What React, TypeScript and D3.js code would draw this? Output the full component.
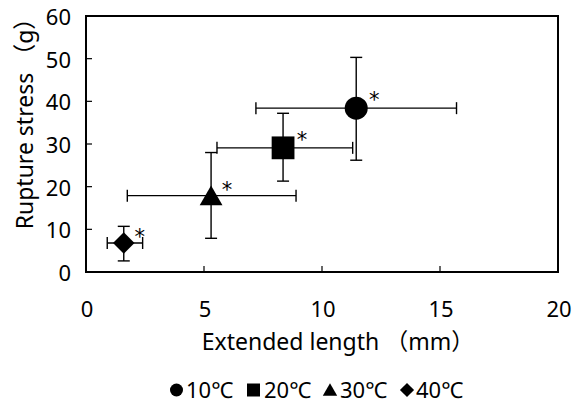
import React, { useEffect, useRef } from 'react';
import * as d3 from 'd3';

const labels = ['10℃', '20℃', '30℃', '40℃'];
const shapes = [d3.symbolCircle, d3.symbolSquare, d3.symbolTriangle, d3.symbolSquare];
const xMean = [11.45, 8.35, 5.3, 1.6];
const yMean = [38.4, 29.1, 17.9, 6.8];
const xLow = [7.2, 5.55, 1.75, 0.9];
const xHigh = [15.7, 11.3, 8.9, 2.4];
const yLow = [26.2, 21.3, 7.9, 2.6];
const yHigh = [50.3, 37.2, 28.0, 10.7];
const xTicks = [0, 5, 10, 15, 20];
const yTicks = [0, 10, 20, 30, 40, 50, 60];

const font = '"Noto Sans", "Noto Sans CJK JP", sans-serif';

export default function App() {
  const ref = useRef<SVGSVGElement>(null);

  useEffect(() => {
    const svg = d3.select(ref.current);
    svg.selectAll('*').remove();

    const margin = { top: 16, right: 25, bottom: 131, left: 86 };
    const width = 583 - margin.left - margin.right;
    const height = 403 - margin.top - margin.bottom;

    const x = d3.scaleLinear().domain([0, 20]).range([0, width]);
    const y = d3.scaleLinear().domain([0, 60]).range([height, 0]);

    const g = svg.append('g').attr('transform', `translate(${margin.left},${margin.top})`);

    // frame
    g.append('rect')
      .attr('width', width).attr('height', height)
      .attr('fill', 'none').attr('stroke', '#000').attr('stroke-width', 2);

    // y ticks (inside)
    g.selectAll('.yt').data(yTicks).enter().append('line')
      .attr('x1', 0).attr('x2', 6)
      .attr('y1', d => y(d)).attr('y2', d => y(d))
      .attr('stroke', '#000').attr('stroke-width', 1.2);
    g.selectAll('.yl').data(yTicks).enter().append('text')
      .attr('x', -15).attr('y', d => y(d) + 1).attr('dy', '0.36em')
      .attr('text-anchor', 'end')
      .style('font-family', font).style('font-size', '22px')
      .text(d => d);

    // x ticks (inside)
    g.selectAll('.xt').data(xTicks).enter().append('line')
      .attr('x1', d => x(d)).attr('x2', d => x(d))
      .attr('y1', height).attr('y2', height - 6)
      .attr('stroke', '#000').attr('stroke-width', 1.2);
    g.selectAll('.xl').data(xTicks).enter().append('text')
      .attr('x', d => x(d) + 1).attr('y', height + 45)
      .attr('text-anchor', 'middle')
      .style('font-family', font).style('font-size', '22px')
      .text(d => d);

    // axis titles
    g.append('text')
      .attr('x', 338 - margin.left).attr('y', 350 - margin.top)
      .attr('text-anchor', 'middle')
      .style('font-family', font).style('font-size', '23px')
      .text('Extended length （mm）');
    g.append('text')
      .attr('transform', `translate(${25 - margin.left},${118 - margin.top}) rotate(-90)`)
      .attr('text-anchor', 'middle').attr('dy', '0.36em')
      .style('font-family', font).style('font-size', '23px')
      .text('Rupture stress （g）');

    const idx = d3.range(labels.length);
    const cap = 6;

    // error bars
    const eb = g.append('g').attr('stroke', '#000').attr('stroke-width', 1.4);
    idx.forEach(i => {
      const cx = x(xMean[i]), cy = y(yMean[i]);
      eb.append('line').attr('x1', x(xLow[i])).attr('x2', x(xHigh[i])).attr('y1', cy).attr('y2', cy);
      eb.append('line').attr('x1', cx).attr('x2', cx).attr('y1', y(yLow[i])).attr('y2', y(yHigh[i]));
      [xLow[i], xHigh[i]].forEach(v =>
        eb.append('line').attr('x1', x(v)).attr('x2', x(v)).attr('y1', cy - cap).attr('y2', cy + cap));
      [yLow[i], yHigh[i]].forEach(v =>
        eb.append('line').attr('x1', cx - cap).attr('x2', cx + cap).attr('y1', y(v)).attr('y2', y(v)));
    });

    // markers
    const sizes = [415, 520, 225, 230];
    g.selectAll('.pt').data(idx).enter().append('path')
      .attr('transform', i => `translate(${x(xMean[i])},${y(yMean[i]) + (i === 2 ? 3 : 0)})` + (i === 3 ? ' rotate(45)' : ''))
      .attr('d', i => d3.symbol().type(shapes[i]).size(sizes[i])())
      .attr('fill', '#000');

    // asterisks
    const astDx = [18, 19, 16, 16];
    const astDy = [-13, -13, -11, -11];
    g.selectAll('.ast').data(idx).enter().append('text')
      .attr('x', i => x(xMean[i]) + astDx[i])
      .attr('y', i => y(yMean[i]) + astDy[i] + 12)
      .attr('text-anchor', 'middle')
      .style('font-family', '"DejaVu Sans", sans-serif').style('font-size', '21px')
      .text('*');

    // legend
    const leg = svg.append('g').attr('transform', 'translate(0,390)');
    const symX = [176.5, 253.5, 330, 407];
    const textX = [186, 264, 340, 416];
    const legSizes = [133, 169, 90, 100];
    idx.forEach(i => {
      leg.append('path')
        .attr('transform', `translate(${symX[i]},${i === 2 ? 1.5 : 0})` + (i === 3 ? ' rotate(45)' : ''))
        .attr('d', d3.symbol().type(shapes[i]).size(legSizes[i])())
        .attr('fill', '#000');
      leg.append('text')
        .attr('x', textX[i]).attr('y', 0).attr('dy', '0.36em')
        .style('font-family', font).style('font-size', '22px')
        .text(labels[i]);
    });
  }, []);

  return <svg ref={ref} width={583} height={403} style={{ position: 'absolute', left: 0, top: 0, background: '#fff' }} />;
}
